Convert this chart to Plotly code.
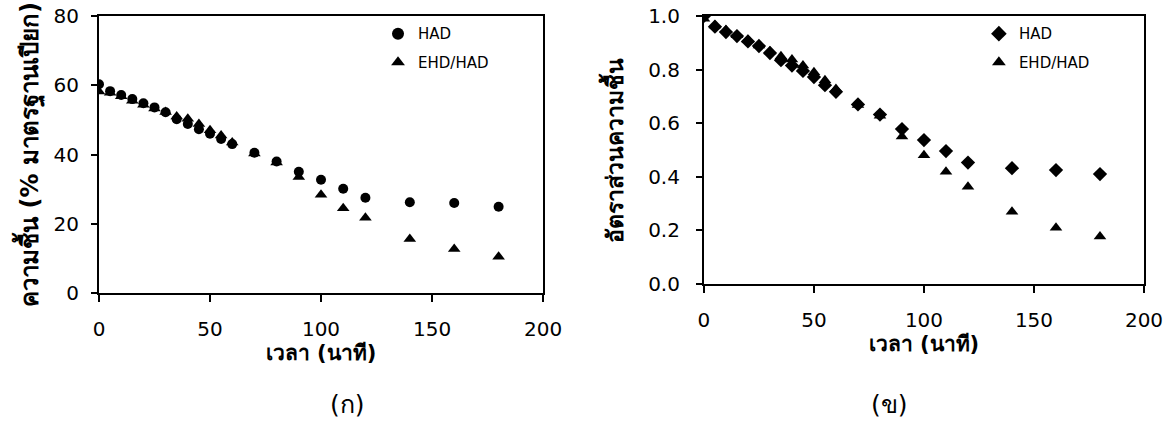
import plotly.graph_objects as go

time_min = [0, 5, 10, 15, 20, 25, 30, 35, 40, 45, 50, 55, 60, 70, 80, 90, 100, 110, 120, 140, 160, 180]

moist_had = [60.3, 58.3, 57.2, 56.0, 54.8, 53.6, 52.2, 50.2, 48.8, 47.3, 46.0, 44.5, 43.0,
             40.5, 38.0, 35.0, 32.7, 30.1, 27.5, 26.2, 26.0, 24.9]
moist_ehd = [58.2, 57.8, 56.8, 55.5, 54.4, 53.3, 52.3, 51.0, 50.3, 48.8, 47.0, 45.5, 43.5,
             40.3, 37.7, 33.5, 28.4, 24.5, 21.7, 15.6, 12.7, 10.5]

ratio_had = [1.0, 0.96, 0.94, 0.925, 0.905, 0.888, 0.862, 0.835, 0.815, 0.795, 0.772, 0.742, 0.717,
             0.670, 0.632, 0.578, 0.537, 0.496, 0.453, 0.432, 0.425, 0.410]
ratio_ehd = [0.99, 0.965, 0.948, 0.928, 0.91, 0.89, 0.868, 0.85, 0.838, 0.815, 0.79, 0.76, 0.728,
             0.668, 0.628, 0.55, 0.48, 0.419, 0.363, 0.27, 0.21, 0.177]

x_ticks = [0, 50, 100, 150, 200]
y_ticks_left = [0, 20, 40, 60, 80]
y_ticks_right = [0.0, 0.2, 0.4, 0.6, 0.8, 1.0]

FONT = "DejaVu Sans, Noto Sans, sans-serif"

fig = go.Figure()
fig.add_trace(go.Scatter(x=time_min, y=moist_had, mode="markers", name="HAD",
                         marker=dict(symbol="circle", size=10, color="black"),
                         xaxis="x", yaxis="y", legend="legend", legendgroup="a1"))
fig.add_trace(go.Scatter(x=time_min, y=moist_ehd, mode="markers", name="EHD/HAD",
                         marker=dict(symbol="triangle-up", size=11, color="black"),
                         xaxis="x", yaxis="y", legend="legend", legendgroup="a2"))
fig.add_trace(go.Scatter(x=time_min, y=ratio_had, mode="markers", name="HAD",
                         marker=dict(symbol="diamond", size=11, color="black"),
                         xaxis="x2", yaxis="y2", legend="legend2", legendgroup="b1"))
fig.add_trace(go.Scatter(x=time_min, y=ratio_ehd, mode="markers", name="EHD/HAD",
                         marker=dict(symbol="triangle-up", size=11, color="black"),
                         xaxis="x2", yaxis="y2", legend="legend2", legendgroup="b2"))

axis_common = dict(showline=True, linecolor="black", linewidth=2, mirror=True,
                   showgrid=False, zeroline=False, ticks="outside", tickcolor="black",
                   tickwidth=2, tickfont=dict(family=FONT, size=20, color="black"),
                   automargin=False)

def tfont(size):
    return dict(family=FONT, size=size, color="black", weight="bold")

legend_common = dict(xanchor="left", yanchor="top", bgcolor="rgba(0,0,0,0)",
                     font=dict(family=FONT, size=15, color="black"), tracegroupgap=6,
                     itemsizing="constant")

fig.update_layout(
    width=1168, height=436,
    margin=dict(l=99, r=24, t=16, b=143),
    paper_bgcolor="white", plot_bgcolor="white",
    showlegend=True,
    xaxis=dict(domain=[0, 0.4249], range=[0, 200], tickvals=x_ticks, ticklen=7,
               ticklabelstandoff=10, anchor="y",
               title=dict(text="เวลา (นาที)", font=tfont(21), standoff=5), **axis_common),
    yaxis=dict(domain=[0, 1], range=[0, 80], tickvals=y_ticks_left, ticklen=6,
               ticklabelstandoff=8, anchor="x",
               title=dict(text="ความชื้น (% มาตรฐานเปียก)", font=tfont(24), standoff=8), **axis_common),
    xaxis2=dict(domain=[0.5789, 1.0], range=[0, 200], tickvals=x_ticks, ticklen=7,
                ticklabelstandoff=10, anchor="y2",
                title=dict(text="เวลา (นาที)", font=tfont(21), standoff=5), **axis_common),
    yaxis2=dict(domain=[0.0325, 1], range=[0, 1.0], tickvals=y_ticks_right, ticklen=6,
                tickformat=".1f", ticklabelstandoff=12, anchor="x2",
                title=dict(text="อัตราส่วนความชื้น", font=tfont(23), standoff=18), **axis_common),
    legend=dict(x=0.267, y=0.995, **legend_common),
    legend2=dict(x=0.842, y=0.995, **legend_common),
)

ph = 436 - 16 - 143
for txt, xc in [("(ก)", (328 - 99) / 1045), ("(ข)", (910 - 99) / 1045)]:
    fig.add_annotation(text=txt, x=xc, xref="paper", y=(293 - 404) / ph, yref="paper",
                       yanchor="middle", showarrow=False,
                       font=dict(family=FONT, size=25, color="black"))

fig.write_html("out.html", post_script="document.body.style.margin='0';",
               config={"displayModeBar": False})
